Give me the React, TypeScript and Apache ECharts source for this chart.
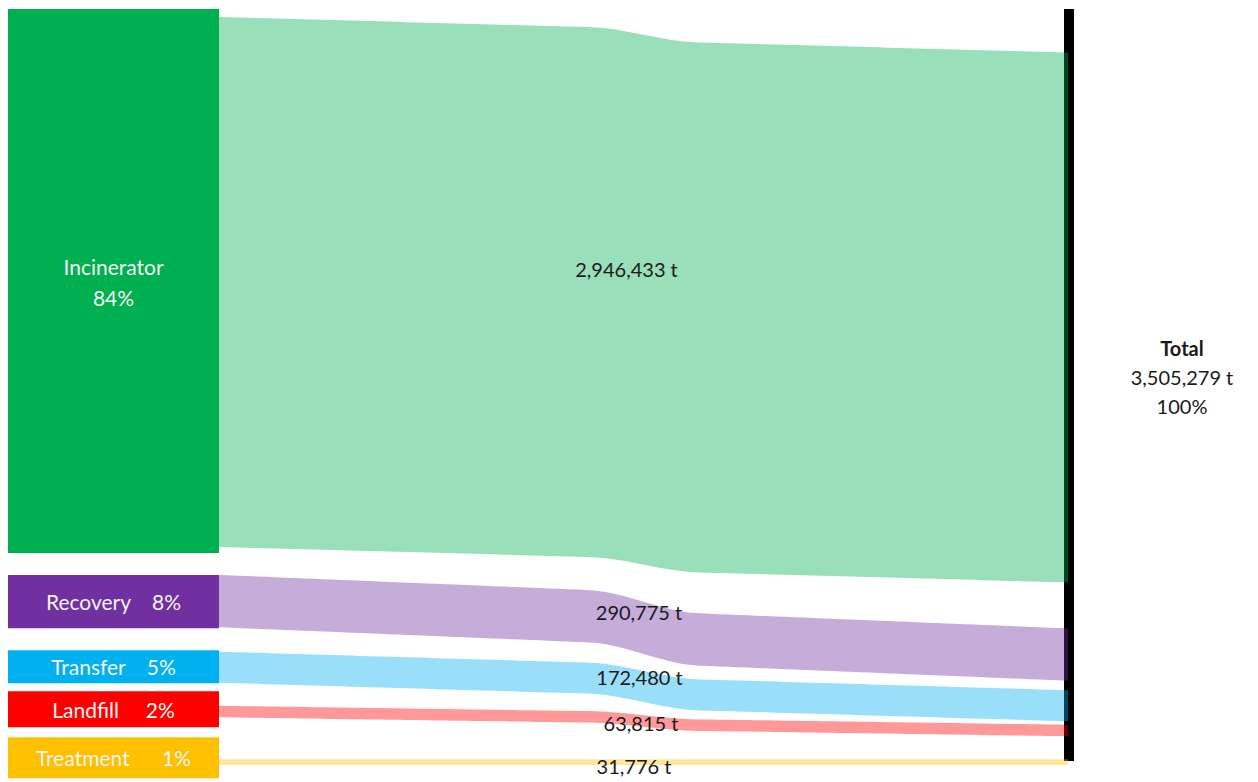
import React, { useEffect, useRef } from 'react';
import * as echarts from 'echarts';

// ---------- data ----------
const categories = ['Incinerator', 'Recovery', 'Transfer', 'Landfill', 'Treatment'];
const tonnes = [2946433, 290775, 172480, 63815, 31776];
const percents = [84, 8, 5, 2, 1];
const totalName = 'Total';
const totalTonnes = 3505279;
const totalPercent = 100;

// ---------- styles ----------
const nodeColors = ['#00b050', '#7030a0', '#00b0f0', '#ff0000', '#ffc000'];
const FLOW_OPACITY = 0.4;
const FONT = 'Lato, "Open Sans", sans-serif';

// ---------- layout (pixels, converted to axis units) ----------
const W = 1258;
const H = 782;
const GRID = { left: 8, right: 184, top: 9, bottom: 3 };
const PLOT_H = H - GRID.top - GRID.bottom;
const PLOT_W = W - GRID.left - GRID.right;
const T_PER_PX = 5560;
const Y_MAX = PLOT_H * T_PER_PX;
const NODE_W = 211;
const FLOW_X1 = 1060;
const BAR_X0 = 1056;
const BAR_BOTTOM_PX = 752;
const nodeGapPx = [0, 22, 22, 8, 10];
const nodeExtraPx = [14, 1, 2, 24.5, 35.3];
const flowInsetPx = [8, 0, 1.5, 14.5, 22];
const rightStartPx = 43.5;
const rightGapPx = [0, 46, 9.5, 3.5, 23];
const LABEL_X = 628;
const labelDx = [-9.5, 3, 3.5, 5, -2];
const labelDy = [-27, -15, -9, 2.5, 4];
const nameGap = [0, 4, 4, 5, 6];
const TOTAL_LABEL_X = 1174;
const TOTAL_LINE_H = 29;
const TOTAL_DY = -8;
const LIN = 0.65;
const STEP_C = 0.5;
const STEP_W = 0.13;

const fmt = (v: number) => v.toLocaleString('en-US');

const ease = (t: number) => {
  const s = Math.min(1, Math.max(0, (t - STEP_C) / STEP_W + 0.5));
  const sm = s * s * (3 - 2 * s);
  return LIN * t + (1 - LIN) * sm;
};

const hexToRgba = (hex: string, a: number) => {
  const n = parseInt(hex.slice(1), 16);
  return `rgba(${(n >> 16) & 255},${(n >> 8) & 255},${n & 255},${a})`;
};

const layout = (() => {
  let cursorL = 0;
  let cursorR = rightStartPx * T_PER_PX;
  return tonnes.map((v, i) => {
    const nodeTop = cursorL + nodeGapPx[i] * T_PER_PX;
    const nodeBot = nodeTop + v + nodeExtraPx[i] * T_PER_PX;
    cursorL = nodeBot;
    const leftTop = nodeTop + flowInsetPx[i] * T_PER_PX;
    const rightTop = cursorR + rightGapPx[i] * T_PER_PX;
    cursorR = rightTop + v;
    return { nodeTop, nodeBot, leftTop, rightTop };
  });
})();

export default function App() {
  const ref = useRef<HTMLDivElement>(null);
  useEffect(() => {
    if (!ref.current) return;
    const chart = echarts.init(ref.current, null, { renderer: 'svg' });
    const option: any = {
      animation: false,
      backgroundColor: '#ffffff',
      grid: { left: GRID.left, right: GRID.right, top: GRID.top, bottom: GRID.bottom },
      xAxis: { type: 'value', min: 0, max: PLOT_W, show: false },
      yAxis: { type: 'value', min: 0, max: Y_MAX, inverse: true, show: false },
      series: [
        {
          type: 'custom',
          name: totalName,
          clip: false,
          data: [[0, totalTonnes]],
          renderItem: (params: any, api: any) => {
            const b0 = api.coord([BAR_X0, 0]);
            const b1 = api.coord([PLOT_W, BAR_BOTTOM_PX * T_PER_PX]);
            const cy = (b0[1] + b1[1]) / 2 + TOTAL_DY;
            const cx = api.coord([TOTAL_LABEL_X, 0])[0];
            const txt = (text: string, y: number, bold: boolean) => ({
              type: 'text',
              x: cx,
              y,
              style: {
                text,
                fill: '#1a1a1a',
                fontFamily: FONT,
                fontSize: 20,
                fontWeight: bold ? 'bold' : 'normal',
                align: 'center',
                verticalAlign: 'middle',
              },
            });
            return {
              type: 'group',
              children: [
                {
                  type: 'rect',
                  shape: { x: b0[0], y: b0[1], width: b1[0] - b0[0], height: b1[1] - b0[1] },
                  style: { fill: '#000000' },
                },
                txt(totalName, cy - TOTAL_LINE_H, true),
                txt(`${fmt(totalTonnes)} t`, cy, false),
                txt(`${totalPercent}%`, cy + TOTAL_LINE_H, false),
              ],
            };
          },
        },
        {
          type: 'custom',
          name: 'flows',
          clip: false,
          data: tonnes.map((v, i) => [i, v]),
          renderItem: (params: any, api: any) => {
            const i = params.dataIndex;
            const L = layout[i];
            const v = tonnes[i];
            const N = 90;
            const top: number[][] = [];
            const bot: number[][] = [];
            for (let k = 0; k <= N; k++) {
              const t = k / N;
              const x = NODE_W + t * (FLOW_X1 - NODE_W);
              const yT = L.leftTop + (L.rightTop - L.leftTop) * ease(t);
              top.push(api.coord([x, yT]));
              bot.push(api.coord([x, yT + v]));
            }
            const points = top.concat(bot.reverse());
            const n0 = api.coord([0, L.nodeTop]);
            const n1 = api.coord([NODE_W, L.nodeBot]);
            const lx = LABEL_X + labelDx[i];
            const lt = (lx - NODE_W) / (FLOW_X1 - NODE_W);
            const yc = L.leftTop + (L.rightTop - L.leftTop) * ease(lt) + v / 2;
            const lp = api.coord([lx, yc]);
            const nodeText =
              i === 0
                ? `${categories[i]}\n${percents[i]}%`
                : `${categories[i]}${'\u00a0'.repeat(nameGap[i])}${percents[i]}%`;
            return {
              type: 'group',
              children: [
                {
                  type: 'polygon',
                  shape: { points },
                  style: { fill: hexToRgba(nodeColors[i], FLOW_OPACITY) },
                },
                {
                  type: 'rect',
                  shape: { x: n0[0], y: n0[1], width: n1[0] - n0[0], height: n1[1] - n0[1] },
                  style: { fill: nodeColors[i] },
                },
                {
                  type: 'text',
                  x: (n0[0] + n1[0]) / 2,
                  y: (n0[1] + n1[1]) / 2 + (i === 0 ? 1 : 0),
                  z2: 10,
                  style: {
                    text: nodeText,
                    fill: '#f4f4f4',
                    fontFamily: FONT,
                    fontSize: 21,
                    lineHeight: 31,
                    align: 'center',
                    verticalAlign: 'middle',
                  },
                },
                {
                  type: 'text',
                  x: lp[0],
                  y: lp[1] + labelDy[i],
                  z2: 10,
                  style: {
                    text: `${fmt(v)} t`,
                    fill: '#1a1a1a',
                    fontFamily: FONT,
                    fontSize: 20,
                    align: 'center',
                    verticalAlign: 'middle',
                  },
                },
              ],
            };
          },
        },
      ],
    };
    chart.setOption(option);
    return () => chart.dispose();
  }, []);
  return (
    <div
      ref={ref}
      style={{ position: 'fixed', left: 0, top: 0, width: W, height: H, background: '#fff' }}
    />
  );
}
